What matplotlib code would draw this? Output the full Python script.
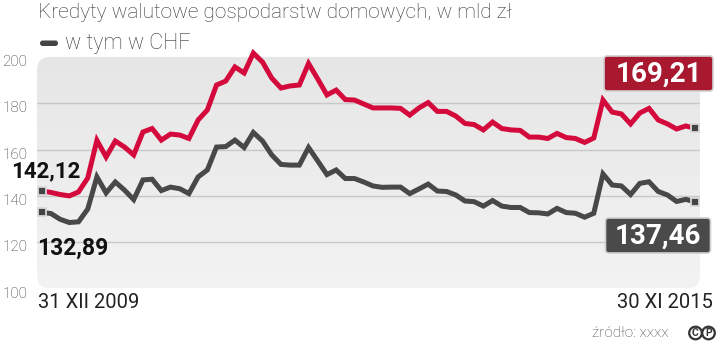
import numpy as np
import matplotlib
matplotlib.use("Agg")
import matplotlib.pyplot as plt
from matplotlib.patches import FancyBboxPatch, Circle
from matplotlib.transforms import ScaledTranslation
from matplotlib.colors import LinearSegmentedColormap

# ---------------- data ----------------
total = [142.12, 141.5, 140.6, 140.0, 141.7, 147.7, 164.0, 156.8, 163.7, 161.1,
         157.7, 167.6, 169.1, 164.1, 166.7, 166.3, 164.8, 172.8, 177.1, 187.9,
         189.6, 195.7, 193.1, 201.7, 197.8, 190.9, 186.6, 187.5, 187.9, 197.2,
         190.5, 183.6, 185.7, 181.6, 181.4, 179.7, 178.0, 178.0, 178.0, 177.8,
         174.9, 178.0, 180.3, 176.5, 176.5, 174.5, 171.3, 170.8, 168.5, 171.9,
         169.1, 168.5, 168.3, 165.4, 165.4, 164.8, 167.0, 165.2, 164.8, 163.1,
         165.0, 181.4, 176.2, 175.4, 171.1, 175.8, 177.8, 172.8, 171.1, 168.9,
         170.2, 169.21]
chf = [132.89, 132.4, 129.9, 128.5, 128.8, 134.3, 148.2, 141.3, 146.0, 142.5,
       138.4, 146.9, 147.2, 142.3, 143.8, 143.1, 141.0, 148.2, 151.2, 161.1,
       161.3, 164.1, 160.9, 167.4, 163.7, 157.7, 153.6, 153.3, 153.3, 160.9,
       155.1, 149.2, 151.2, 147.5, 147.5, 146.0, 144.3, 143.7, 143.8, 143.8,
       141.0, 143.0, 145.1, 142.1, 141.9, 140.4, 137.8, 137.5, 135.6, 138.0,
       135.6, 135.0, 135.0, 132.8, 132.7, 132.2, 134.6, 132.8, 132.5, 130.8,
       132.5, 149.5, 144.7, 144.3, 140.6, 145.4, 146.1, 141.9, 140.4, 137.6,
       138.5, 137.46]
y_ticks = [100, 120, 140, 160, 180, 200]
start_label = "31 XII 2009"
end_label = "30 XI 2015"
title = "Kredyty walutowe gospodarstw domowych, w mld zł"
legend_label = "w tym w CHF"
first_total, first_chf = "142,12", "132,89"
last_total, last_chf = "169,21", "137,46"
source = "źródło: xxxx"

RED = "#d40a3c"
DARKRED = "#a8192f"
GREY = "#484848"
FONT = "Roboto"

W, H, DPI = 720, 346, 100
fig = plt.figure(figsize=(W / DPI, H / DPI), dpi=DPI)
fig.patch.set_facecolor("white")

def fx(x):
    return x / W

def fy(y):
    return 1 - y / H

L, R, T, B = 37, 700, 57, 288.5
ax = fig.add_axes([fx(L), fy(B), (R - L) / W, (B - T) / H])
ax.set_facecolor("none")
for s in ax.spines.values():
    s.set_visible(False)

n = len(total)
x = np.arange(n)
step = 9.2
ax.set_xlim(-(41.7 - L) / step, (n - 1) + (R - 695) / step)
ax.set_ylim(100, 200)

# rounded gradient panel
panel = FancyBboxPatch((L / DPI, (H - B) / DPI), (R - L) / DPI, (B - T) / DPI,
                       boxstyle="round,pad=0,rounding_size=0.13",
                       transform=fig.dpi_scale_trans, facecolor="none",
                       edgecolor="none")
ax.add_patch(panel)
grad = np.linspace(0, 1, 256).reshape(-1, 1)
cmap = LinearSegmentedColormap.from_list("g", ["#f3f3f3", "#e6e6e6"])
xl = ax.get_xlim()
im = ax.imshow(grad, extent=[xl[0], xl[1], 200, 100], aspect="auto", cmap=cmap,
               zorder=0, interpolation="bicubic")
im.set_clip_path(panel)
ax.set_xlim(xl)
ax.set_ylim(100, 200)

for v in y_ticks[1:-1]:
    ax.axhline(v, color="#c8c8c8", lw=1.0, zorder=1)

ax.set_yticks(y_ticks)
ax.set_yticklabels([str(v) for v in y_ticks], fontfamily=FONT,
                   fontweight="light", fontsize=11, color="#333333")
ax.tick_params(axis="y", length=0, pad=7)
for lbl in ax.get_yticklabels():
    lbl.set_transform(lbl.get_transform() +
                      ScaledTranslation(0, -3.5 / DPI, fig.dpi_scale_trans))
ax.set_xticks([])

ax.plot(x, chf, color=GREY, lw=3.6, solid_joinstyle="miter",
        solid_capstyle="butt", zorder=3, clip_on=False)
ax.plot(x, total, color=RED, lw=3.6, solid_joinstyle="miter",
        solid_capstyle="butt", zorder=4, clip_on=False)
for series in (total, chf):
    ax.plot([0, n - 1], [series[0], series[-1]], ls="none", marker="s",
            ms=5.5, mfc="#444444", mec="#d8d8d8", mew=1.3, zorder=6,
            clip_on=False)

# titles
fig.text(fx(38), fy(12.5), title, fontfamily=FONT, fontweight="light",
         fontsize=15, color="#333333", va="center", ha="left")
leg = FancyBboxPatch((40 / DPI, (H - 46) / DPI), 18 / DPI, 5.5 / DPI,
                     boxstyle="round,pad=0,rounding_size=0.027",
                     transform=fig.dpi_scale_trans, facecolor="#444444",
                     edgecolor="none")
fig.patches.append(leg)
fig.text(fx(65), fy(43), legend_label, fontfamily=FONT, fontweight="light",
         fontsize=15.5, color="#333333", va="center", ha="left")

# first values
fig.text(fx(11), fy(171.5), first_total, fontfamily=FONT, fontweight="bold",
         fontsize=16, color="#111111", va="center", ha="left")
fig.text(fx(37), fy(248), first_chf, fontfamily=FONT, fontweight="bold",
         fontsize=16.5, color="#111111", va="center", ha="left")

# last value boxes
def value_box(cx, cy, w, h, txt, fc):
    p = FancyBboxPatch(((cx - w / 2) / DPI, (H - cy - h / 2) / DPI), w / DPI,
                       h / DPI, boxstyle="round,pad=0,rounding_size=0.03",
                       transform=fig.dpi_scale_trans, facecolor=fc,
                       edgecolor="#d0d0d0", lw=1.2, zorder=10)
    fig.patches.append(p)
    fig.text(fx(cx), fy(cy + 1), txt, fontfamily=FONT, fontweight="bold",
             fontsize=20, color="white", va="center", ha="center", zorder=11)

value_box(658.5, 73.5, 109, 35, last_total, DARKRED)
value_box(658, 235.5, 105, 35, last_chf, "#4a4a4a")

# bottom date labels
fig.text(fx(38), fy(302), start_label, fontfamily=FONT, fontsize=14.5,
         color="#222222", va="center", ha="left")
fig.text(fx(713), fy(302), end_label, fontfamily=FONT, fontsize=14.5,
         color="#222222", va="center", ha="right")

# source + logo
fig.text(fx(668), fy(333), source, fontfamily=FONT, fontweight="light",
         fontsize=11, color="#444444", va="center", ha="right")
for cx, ch in ((695.5, "C"), (708.5, "P")):
    c = Circle((cx / DPI, (H - 333) / DPI), 6.3 / DPI,
               transform=fig.dpi_scale_trans, facecolor="white",
               edgecolor="#333333", lw=1.6)
    fig.patches.append(c)
    fig.text(fx(cx), fy(333), ch, fontfamily=FONT, fontweight="bold",
             fontsize=7.5, color="#333333", va="center", ha="center")

fig.savefig("out.png", dpi=DPI)
